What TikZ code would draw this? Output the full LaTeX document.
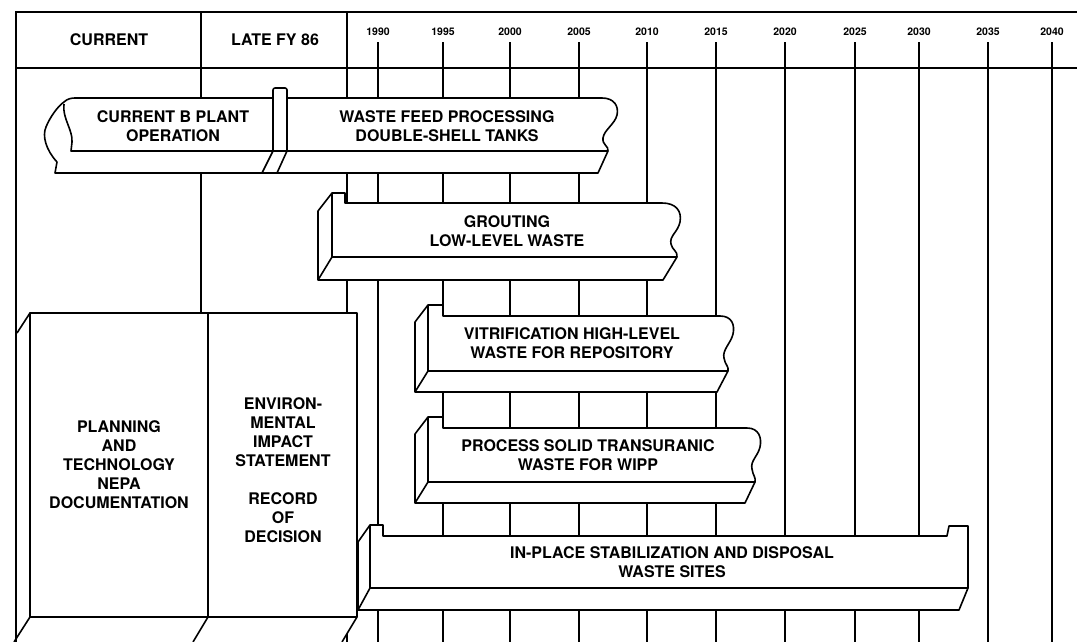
\documentclass[tikz,border=0pt]{standalone}
\usepackage{fontspec}
\setmainfont{TeX Gyre Heros}
\usetikzlibrary{positioning}

\begin{document}
\begin{tikzpicture}[
  x=1pt, y=-1pt,
  frame/.style={line width=2.6pt},
  gridline/.style={line width=1.4pt},
  slab/.style={draw, fill=white, line width=1.6pt, line join=round},
  edge/.style={line width=1.6pt, line join=round},
  lbl/.style={align=center, inner sep=0pt, font=\bfseries\fontsize{16}{19}\selectfont},
  yr/.style={inner sep=0pt, font=\bfseries\fontsize{10.5}{12}\selectfont},
]
\useasboundingbox (0,0) rectangle (1077,642);

% ---------- header ----------
\coordinate (bot) at (0,642);
\draw[gridline] (201,12) -- (201,642);
\draw[gridline] (347,12) -- (347,642);
\node[lbl] (hcur)  at (109,40) {CURRENT};
\node[lbl] (hlate) at (275,40) {LATE FY 86};

% ---------- years ----------
\node[yr] (y1990) at (378,32) {1990};
\node[yr] (y1995) at (443,32) {1995};
\node[yr] (y2000) at (510,32) {2000};
\node[yr] (y2005) at (579,32) {2005};
\node[yr] (y2010) at (647,32) {2010};
\node[yr] (y2015) at (716,32) {2015};
\node[yr] (y2020) at (785,32) {2020};
\node[yr] (y2025) at (855,32) {2025};
\node[yr] (y2030) at (919,32) {2030};
\node[yr] (y2035) at (988,32) {2035};
\node[yr] (y2040) at (1052,32) {2040};
\foreach \yy in {y1990,y1995,y2000,y2005,y2010,y2015,y2020,y2025,y2030,y2035,y2040}
  \draw[gridline] ([yshift=-6pt]\yy.south) -- (\yy.south |- bot);

% ================= planning / EIS block =================
\fill[white] (17.3,333) -- (30,313) -- (357,313) -- (357,617) -- (342,642) -- (17.3,642) -- cycle;
\draw[edge] (30,313) rectangle (357,617);
\draw[edge] (208,313) -- (208,617);
\draw[edge] (17,333) -- (30,313);
\draw[edge] (30,617) -- (14,642) (208,617) -- (193,642) (357,617) -- (342,642);
\node[lbl] (tplan) at (119,465) {PLANNING\\AND\\TECHNOLOGY\\NEPA\\DOCUMENTATION};
\node[lbl] (teis)  at (283,470) {ENVIRON-\\MENTAL\\IMPACT\\STATEMENT\\[19pt]RECORD\\OF\\DECISION};

% ---------- frame ----------
\draw[frame] (16,642) -- (16,12) -- (1077,12);
\draw[frame] (16,68) -- (1077,68);

% ================= B plant / waste feed =================
\draw[slab] (75,98) -- (602,98)
  .. controls (614,98) and (619,106) .. (617,115)
  .. controls (615,124) and (604,130) .. (603,138)
  .. controls (602,145) and (609,146) .. (608,151)
  -- (598,173) -- (55,173) -- (57,162)
  .. controls (46,150) and (42,136) .. (46,127)
  .. controls (50,117) and (58,106) .. (64,102)
  .. controls (67,99) and (71,98) .. cycle;
\draw[slab, rounded corners=2pt] (273,151) -- (273,88) -- (287,88) -- (287,151);
\draw[edge] (64,104) .. controls (62,118) and (73,130) .. (72,142) -- (71,151) -- (608,151);
\draw[edge] (273,151) -- (262,173) (287,151) -- (277,173);
\node[lbl] (tbplant) at (173,126) {CURRENT B PLANT\\OPERATION};
\node[lbl] (tfeed)   at (447,126) {WASTE FEED PROCESSING\\DOUBLE-SHELL TANKS};

% ================= grouting =================
\draw[slab] (318,280) -- (318,211) -- (332,193) -- (345,193) -- (345,203) -- (662,203)
  .. controls (676,203) and (682,211) .. (680,222)
  .. controls (678,232) and (669,236) .. (671,244)
  .. controls (672,250) and (678,251) .. (677,257)
  -- (663,280) -- cycle;
\draw[edge] (332,193) -- (332,257) -- (677,257) (332,257) -- (318,280);
\node[lbl] (tgrout) at (507,231) {GROUTING\\LOW-LEVEL WASTE};

% ================= vitrification =================
\draw[slab] (415,392) -- (415,322) -- (428,305) -- (443,305) -- (443,316) -- (720,316)
  .. controls (732,316) and (735,325) .. (733,334)
  .. controls (731,343) and (722,350) .. (724,358)
  .. controls (725,365) and (729,366) .. (728,371)
  -- (717,392) -- cycle;
\draw[edge] (428,305) -- (428,371) -- (728,371) (428,371) -- (415,392);
\node[lbl] (tvitri) at (572,343) {VITRIFICATION HIGH-LEVEL\\WASTE FOR REPOSITORY};

% ================= transuranic =================
\draw[slab] (415,503) -- (415,434) -- (428,417) -- (443,417) -- (443,428) -- (747,428)
  .. controls (759,428) and (762,438) .. (760,447)
  .. controls (758,456) and (750,461) .. (752,469)
  .. controls (753,476) and (756,477) .. (755,482)
  -- (745,503) -- cycle;
\draw[edge] (428,417) -- (428,482) -- (755,482) (428,482) -- (415,503);
\node[lbl] (ttru) at (588,455) {PROCESS SOLID TRANSURANIC\\WASTE FOR WIPP};

% ================= in-place stabilization =================
\draw[slab] (358,610) -- (358,542) -- (370,525) -- (383,525) -- (383,536) -- (947,536)
  -- (949,526) -- (968,526) -- (968,588) -- (959,610) -- cycle;
\draw[edge] (370,525) -- (370,588) -- (968,588) (370,588) -- (358,610);
\node[lbl] (tsite) at (672,562) {IN-PLACE STABILIZATION AND DISPOSAL\\WASTE SITES};
\end{tikzpicture}
\end{document}
